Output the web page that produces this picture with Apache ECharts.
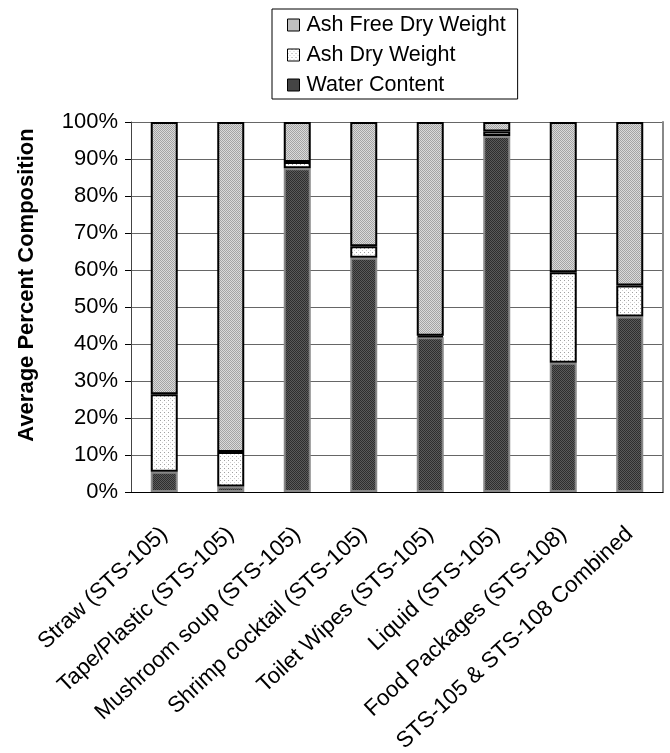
<!DOCTYPE html>
<html><head><meta charset="utf-8">
<script src="https://cdn.jsdelivr.net/npm/echarts@6/dist/echarts.min.js"></script>
<style>html,body{margin:0;padding:0;background:#fff}#c{width:670px;height:753px}</style>
</head><body><div id="c"></div>
<script>
const categories = ['Straw (STS-105)', 'Tape/Plastic (STS-105)', 'Mushroom soup (STS-105)', 'Shrimp cocktail (STS-105)', 'Toilet Wipes (STS-105)', 'Liquid (STS-105)', 'Food Packages (STS-108)', 'STS-105 & STS-108 Combined'];
const waterContent = [5.5, 1.5, 87.5, 63.3, 41.8, 96.2, 34.9, 47.4];
const ashDryWeight = [20.9, 9.3, 1.7, 3.1, 0.4, 1.2, 24.5, 8.4];
const ashFreeDryWeight = [73.6, 89.2, 10.8, 33.6, 57.8, 2.6, 40.6, 44.2];
const seriesNames = ['Ash Free Dry Weight', 'Ash Dry Weight', 'Water Content'];
const yMin = 0, yMax = 100, yInterval = 10;

function pattern(size, bg, dots) {
  const c = document.createElement('canvas');
  c.width = c.height = size;
  const ctx = c.getContext('2d');
  ctx.fillStyle = bg; ctx.fillRect(0, 0, size, size);
  dots.forEach(d => { ctx.fillStyle = d[2]; ctx.fillRect(d[0], d[1], 1, 1); });
  return { image: c, repeat: 'repeat' };
}
const afdwFill = pattern(2, '#dadada', [[0,0,'#a4a4a4'],[1,1,'#a4a4a4']]);
const ashFill = pattern(4, '#ffffff', [[0,0,'#a0a0a0'],[2,2,'#cfcfcf']]);
const waterFill = pattern(2, '#5a5a5a', [[0,0,'#2e2e2e'],[1,1,'#2e2e2e']]);

const font = 'Liberation Sans, Arial, sans-serif';
const chart = echarts.init(document.getElementById('c'));
chart.setOption({
  animation: false,
  textStyle: { fontFamily: font, color: '#000' },
  legend: {
    data: seriesNames,
    orient: 'vertical',
    left: 272, top: 9,
    padding: [5, 12, 3, 15],
    itemGap: 8,
    itemWidth: 12, itemHeight: 12,
    borderColor: '#000', borderWidth: 1,
    textStyle: { fontSize: 21.5, fontFamily: font, color: '#000', padding: [0, 0, 0, 2] },
    icon: 'rect',
    itemStyle: { borderColor: '#000', borderWidth: 1 }
  },
  grid: { left: 131, right: 7, top: 122, bottom: 261, containLabel: false, outerBoundsMode: 'none' },
  xAxis: {
    type: 'category',
    data: categories,
    axisLine: { lineStyle: { color: '#000', width: 1 } },
    axisTick: { length: 6, lineStyle: { color: '#000' } },
    axisLabel: { rotate: 43, interval: 0, fontSize: 22.5, margin: 39, padding: [32, 0, 0, 0], color: '#000', fontFamily: font }
  },
  yAxis: [{
    type: 'value', min: yMin, max: yMax, interval: yInterval,
    name: 'Average Percent Composition',
    nameLocation: 'middle', nameGap: 93,
    nameTextStyle: { fontSize: 22, fontWeight: 'bold', color: '#000', fontFamily: font, padding: [0, 0, 0, 44] },
    axisLine: { show: true, lineStyle: { color: '#444', width: 1 } },
    axisTick: { show: true, length: 6, lineStyle: { color: '#000' } },
    axisLabel: { formatter: '{value}%', fontSize: 22, margin: 13, color: '#000', fontFamily: font },
    splitLine: { lineStyle: { color: '#666', width: 1 } }
  }, {
    type: 'value', min: yMin, max: yMax, interval: yInterval, position: 'right',
    axisLine: { show: true, lineStyle: { color: '#888', width: 2 } },
    axisTick: { show: false }, axisLabel: { show: false }, splitLine: { show: false }
  }],
  series: [
    { name: 'Water Content', type: 'bar', stack: 'total', barWidth: 27, data: waterContent,
      itemStyle: { color: waterFill, borderColor: '#888', borderWidth: 2 } },
    { name: 'Ash Dry Weight', type: 'bar', stack: 'total', barWidth: 27, data: ashDryWeight,
      itemStyle: { color: ashFill, borderColor: '#000', borderWidth: 2 } },
    { name: 'Ash Free Dry Weight', type: 'bar', stack: 'total', barWidth: 27, data: ashFreeDryWeight,
      itemStyle: { color: afdwFill, borderColor: '#000', borderWidth: 2 } }
  ]
});
</script></body></html>
